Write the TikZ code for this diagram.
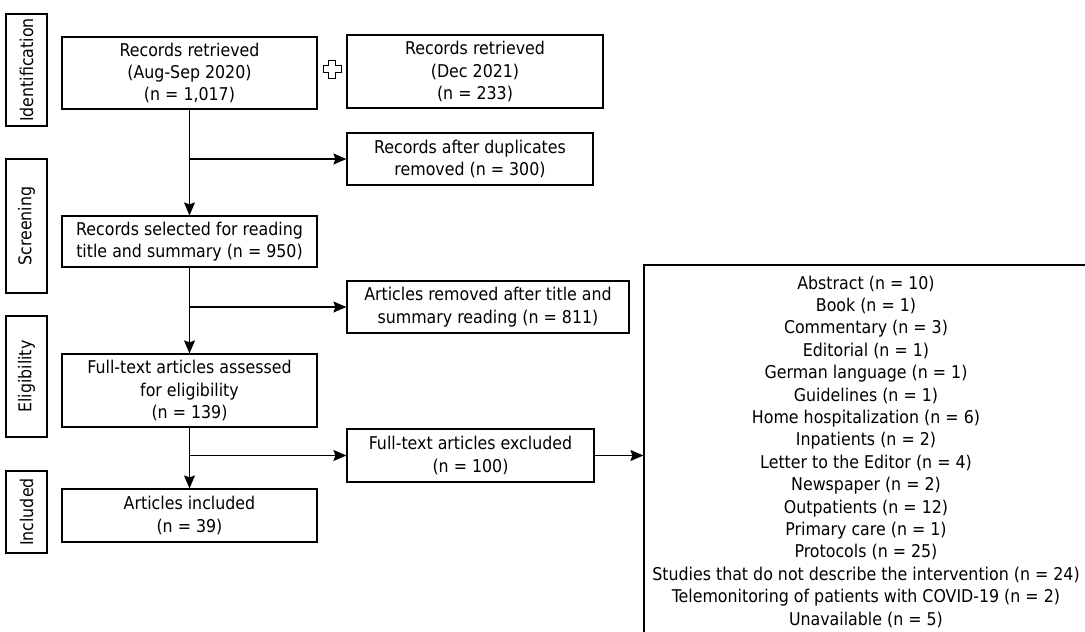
\documentclass[tikz,border=0pt]{standalone}
\usepackage{fontspec}
\setmainfont{DejaVu Sans Condensed}
\usetikzlibrary{arrows.meta,calc}

\tikzset{
	box/.style={draw, align=center, inner sep=0pt},
	phase/.style={draw, rotate=90, inner sep=0pt, minimum height=41pt},
}

\begin{document}
\begin{tikzpicture}[x=1pt, y=-1pt, line width=1.2pt, >={Stealth[length=13pt,width=11pt,inset=2pt]}, font=\fontsize{17.6}{22.4}\selectfont]
	\clip (0,0) rectangle (1085,632);
	% phases
	\node [phase, minimum width=112pt] (ident) at (26.5,70) {Identification};
	\node [phase, minimum width=134pt] (screen) at (26.5,226) {Screening};
	\node [phase, minimum width=121pt] (elig) at (26.5,376.5) {Eligibility};
	\node [phase, minimum width=82pt] (incl) at (26.5,512) {Included};
	% boxes
	\node [box, minimum width=255pt, minimum height=72pt] (first) at (189.5,73) {Records retrieved\\(Aug-Sep 2020)\\(n = 1,017)};
	\node [box, minimum width=256pt, minimum height=73pt] (second) at (475,71.5) {Records retrieved\\(Dec 2021)\\(n = 233)};
	\node [box, minimum width=246pt, minimum height=52pt] (dupl) at (470,159) {Records after duplicates\\removed (n = 300)};
	\node [box, minimum width=255pt, minimum height=51pt] (selected) at (189.5,241.5) {Records selected for reading\\title and summary (n = 950)};
	\node [box, minimum width=282pt, minimum height=52pt] (removed) at (488,307) {Articles removed after title and\\summary reading (n = 811)};
	\node [box, minimum width=255pt, minimum height=73pt] (fulltext) at (189.5,390.5) {Full-text articles assessed\\for eligibility\\(n = 139)};
	\node [box, minimum width=247pt, minimum height=53pt] (excluded) at (470.5,455.5) {Full-text articles excluded\\(n = 100)};
	\node [box, minimum width=255pt, minimum height=53pt] (included) at (189.5,515.5) {Articles included\\(n = 39)};
	\node [box, minimum width=444pt, minimum height=373pt] (reasons) at (866,451.5) {Abstract (n = 10)\\Book (n = 1)\\Commentary (n = 3)\\Editorial (n = 1)\\German language (n = 1)\\Guidelines (n = 1)\\Home hospitalization (n = 6)\\Inpatients (n = 2)\\Letter to the Editor (n = 4)\\Newspaper (n = 2)\\Outpatients (n = 12)\\Primary care (n = 1)\\Protocols (n = 25)\\Studies that do not describe the intervention (n = 24)\\Telemonitoring of patients with COVID-19 (n = 2)\\Unavailable (n = 5)};
	% plus
	\coordinate (plus) at (332,69);
	\draw [line width=1pt] (plus) ++(-3.5,-9) -- ++(7,0) -- ++(0,5.5) -- ++(5.5,0) -- ++(0,7) -- ++(-5.5,0) -- ++(0,5.5) -- ++(-7,0) -- ++(0,-5.5) -- ++(-5.5,0) -- ++(0,-7) -- ++(5.5,0) -- cycle;
	% arrows
	\draw [->] (first) -- (selected);
	\draw [->] (first.south |- dupl.west) -- (dupl);
	\draw [->] (selected) -- (fulltext);
	\draw [->] (selected.south |- removed.west) -- (removed);
	\draw [->] (fulltext) -- (included);
	\draw [->] (fulltext.south |- excluded.west) -- (excluded);
	\draw [->] (excluded.east) -- (excluded.east -| reasons.west);
\end{tikzpicture}
\end{document}
